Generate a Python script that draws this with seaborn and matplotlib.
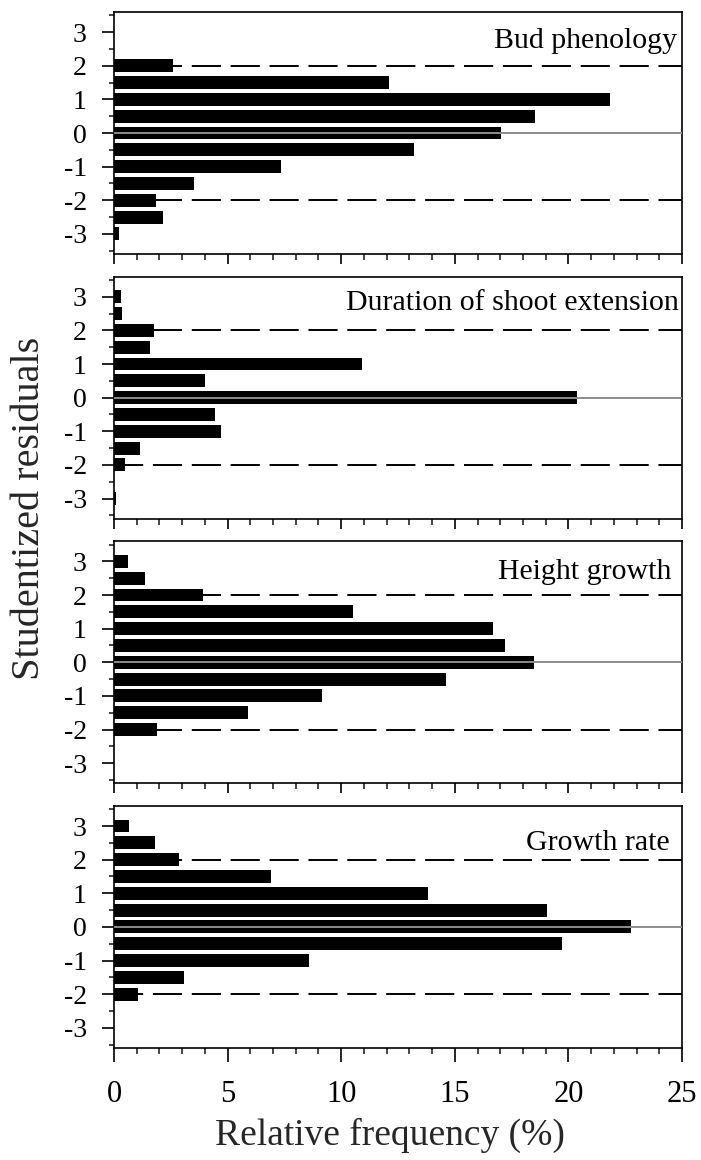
import matplotlib
matplotlib.use("Agg")
import matplotlib.pyplot as plt
import seaborn as sns
from matplotlib.ticker import MultipleLocator

# ---------------- data ----------------
residual_bins = [3.0, 2.5, 2.0, 1.5, 1.0, 0.5, 0.0, -0.5, -1.0, -1.5, -2.0, -2.5, -3.0]
panel_titles = ["Bud phenology", "Duration of shoot extension", "Height growth", "Growth rate"]
bud_phenology = [0.0, 0.0, 2.6, 12.1, 21.85, 18.55, 17.05, 13.2, 7.35, 3.5, 1.85, 2.15, 0.2]
shoot_extension = [0.3, 0.37, 1.78, 1.58, 10.9, 4.0, 20.4, 4.45, 4.7, 1.16, 0.5, 0.0, 0.08]
height_growth = [0.61, 1.36, 3.9, 10.5, 16.7, 17.2, 18.5, 14.6, 9.15, 5.9, 1.9, 0.0, 0.0]
growth_rate = [0.66, 1.8, 2.85, 6.93, 13.8, 19.05, 22.75, 19.7, 8.6, 3.1, 1.05, 0.0, 0.0]
series = [bud_phenology, shoot_extension, height_growth, growth_rate]
x_ticks = [0, 5, 10, 15, 20, 25]
y_ticks = [-3, -2, -1, 0, 1, 2, 3]
x_label = "Relative frequency (%)"
y_label = "Studentized residuals"

# ---------------- style ----------------
sns.set_style("ticks")
plt.rcParams["font.family"] = ["Liberation Serif", "DejaVu Serif"]
plt.rcParams["axes.unicode_minus"] = False

title_pos = [(0.991, 0.882), (0.995, 0.890), (0.982, 0.873), (0.979, 0.845)]

fig, axes = plt.subplots(4, 1, figsize=(7.01, 11.6), dpi=100, sharex=True)
fig.subplots_adjust(left=0.1626, right=0.9729, top=0.9897, bottom=0.0966, hspace=0.093)

for i, (ax, vals, title) in enumerate(zip(axes, series, panel_titles)):
    sns.barplot(x=vals, y=residual_bins, orient="y", native_scale=True,
                color="black", saturation=1, width=0.77, linewidth=0,
                errorbar=None, ax=ax)
    ax.axhline(2, color="black", lw=1.4, ls=(0, (15, 5)), zorder=0.5)
    ax.axhline(-2, color="black", lw=1.4, ls=(0, (15, 5)), zorder=0.5)
    ax.axhline(0, color="#8c8c8c", lw=1.4, zorder=5)
    ax.set_xlim(0, 25)
    ax.set_ylim(-3.6, 3.6)
    ax.set_xlabel("")
    ax.set_ylabel("")
    ax.set_xticks(x_ticks)
    ax.set_yticks(y_ticks)
    ax.xaxis.set_minor_locator(MultipleLocator(1))
    ax.yaxis.set_minor_locator(MultipleLocator(0.5))
    for sp in ax.spines.values():
        sp.set_visible(True)
        sp.set_linewidth(1.2)
        sp.set_color("black")
    last = i == len(axes) - 1
    ax.tick_params(axis="y", which="major", length=8.6, width=1.2, direction="out",
                   pad=11, labelsize=20, colors="black")
    ax.tick_params(axis="y", which="minor", length=3.8, width=1.2, direction="out")
    ax.tick_params(axis="x", which="major", length=10 if last else 7, width=1.2,
                   direction="out", pad=13, labelsize=22, colors="black",
                   labelbottom=last)
    ax.tick_params(axis="x", which="minor", length=4.3, width=1.2, direction="out")
    ax.tick_params(top=False, right=False, which="both")
    ax.text(title_pos[i][0], title_pos[i][1], title, transform=ax.transAxes,
            ha="right", va="center", fontsize=21.5, color="black")

fig.text(30 / 701, 0.562, y_label, rotation=90, ha="center", va="center", fontsize=29)
fig.text(390 / 701, 1 - 1135 / 1160, x_label, ha="center", va="center", fontsize=27)

fig.savefig("out.png", dpi=100)
